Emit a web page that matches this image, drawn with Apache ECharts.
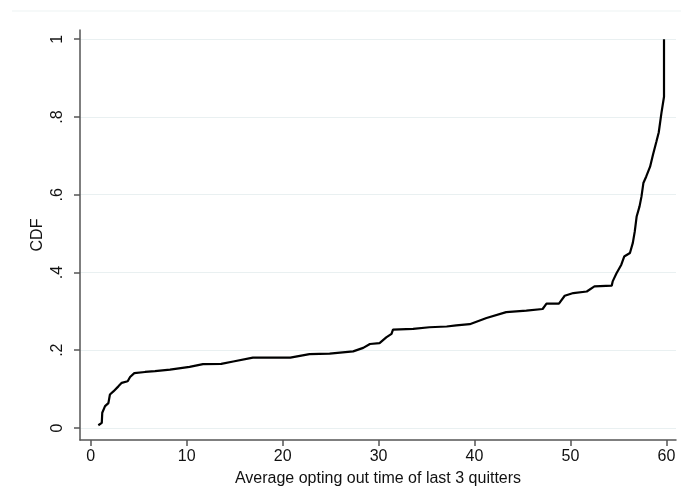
<!DOCTYPE html>
<html>
<head>
<meta charset="utf-8">
<script src="https://cdn.jsdelivr.net/npm/echarts@6/dist/echarts.min.js"></script>
<style>
html,body{margin:0;padding:0;background:#fff;}
#chart{width:681px;height:501px;}
</style>
</head>
<body>
<div id="chart"></div>
<script>
// Average opting out time of last 3 quitters (x) and its empirical CDF (y)
const timeValues = [0.79, 1.15, 1.2, 1.49, 1.84, 2.0, 2.36, 2.88, 3.23, 3.85, 4.1, 4.54, 5.66, 6.7, 8.26, 10.3, 11.7, 13.6, 14.85, 16.9, 20.8, 22.8, 24.9, 27.35, 28.4, 29.1, 30.1, 30.8, 31.35, 31.5, 33.6, 35.3, 37.1, 38.1, 39.5, 41.25, 43.3, 45.4, 47.1, 47.5, 48.8, 49.4, 50.3, 51.7, 52.5, 54.3, 54.4, 54.8, 55.3, 55.6, 56.2, 56.5, 56.7, 56.9, 57.2, 57.4, 57.6, 57.9, 58.3, 58.6, 58.96, 59.2, 59.48, 59.75, 59.75];
const cdfValues  = [0.007, 0.013, 0.039, 0.056, 0.064, 0.086, 0.094, 0.107, 0.116, 0.12, 0.131, 0.141, 0.144, 0.146, 0.15, 0.157, 0.164, 0.165, 0.171, 0.181, 0.181, 0.19, 0.191, 0.197, 0.206, 0.216, 0.218, 0.233, 0.242, 0.253, 0.255, 0.259, 0.261, 0.264, 0.267, 0.283, 0.298, 0.302, 0.306, 0.32, 0.32, 0.34, 0.347, 0.351, 0.364, 0.366, 0.377, 0.398, 0.42, 0.441, 0.45, 0.476, 0.505, 0.544, 0.57, 0.595, 0.63, 0.647, 0.672, 0.703, 0.737, 0.76, 0.81, 0.852, 1.0];
const xTicks = [0, 10, 20, 30, 40, 50, 60];
const yTicks = [0, 0.2, 0.4, 0.6, 0.8, 1];
const yTickLabels = ['0', '.2', '.4', '.6', '.8', '1'];
const xTitle = 'Average opting out time of last 3 quitters';
const yTitle = 'CDF';

const font = 'Liberation Sans, Arial, sans-serif';
const chart = echarts.init(document.getElementById('chart'), null, {renderer: 'canvas'});
const points = timeValues.map((v, i) => [v, cdfValues[i]]);
const gridColor = '#e9f0f1';

chart.setOption({
  animation: false,
  backgroundColor: '#ffffff',
  grid: {left: 80, top: 30, right: 5, bottom: 61, containLabel: false},
  graphic: [{
    type: 'line',
    shape: {x1: 12, y1: 11, x2: 681, y2: 11},
    style: {stroke: '#edf3f3', lineWidth: 1}
  }],
  xAxis: {
    type: 'value',
    min: -1.12,
    max: 61,
    name: xTitle,
    nameLocation: 'middle',
    nameGap: 31,
    nameMoveOverlap: false,
    nameTextStyle: {fontFamily: font, fontSize: 16, color: '#111'},
    axisLine: {show: true, onZero: false, lineStyle: {color: '#555', width: 1.5}},
    axisTick: {show: true, length: 6, customValues: xTicks, lineStyle: {color: '#555', width: 1.5}},
    axisLabel: {customValues: xTicks, margin: 9, fontFamily: font, fontSize: 16, color: '#111'},
    splitLine: {show: false}
  },
  yAxis: {
    type: 'value',
    min: -0.031,
    max: 1.0237,
    name: yTitle,
    nameLocation: 'middle',
    nameGap: 34,
    nameMoveOverlap: false,
    nameRotate: 90,
    nameTextStyle: {fontFamily: font, fontSize: 16, color: '#111'},
    axisLine: {show: true, onZero: false, lineStyle: {color: '#555', width: 1.5}},
    axisTick: {show: true, length: 6, customValues: yTicks, lineStyle: {color: '#555', width: 1.5}},
    axisLabel: {
      customValues: yTicks,
      rotate: 90,
      margin: 14,
      fontFamily: font, fontSize: 16, color: '#111',
      formatter: function (v) {
        const i = yTicks.findIndex(t => Math.abs(t - v) < 1e-6);
        return i >= 0 ? yTickLabels[i] : '';
      }
    },
    splitLine: {show: false}
  },
  series: [{
    type: 'line',
    data: points,
    showSymbol: false,
    symbol: 'none',
    lineStyle: {color: '#000', width: 2.2},
    markLine: {
      silent: true,
      symbol: 'none',
      label: {show: false},
      lineStyle: {color: gridColor, width: 1, type: 'solid'},
      z: 0,
      data: yTicks.map(t => ({yAxis: t}))
    },
    z: 3
  }]
});
</script>
</body>
</html>
